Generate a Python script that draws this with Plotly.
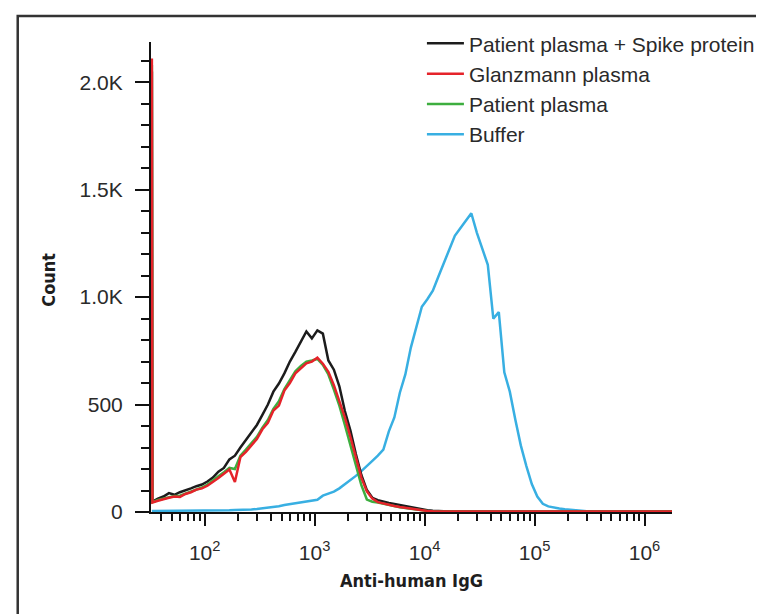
import plotly.graph_objects as go

# log10 channel positions: first entry is the low-end pile-up channel
LOG_X = [1.52] + [round(1.525 + 0.05 * i, 3) for i in range(96)]

SERIES_NAMES = ["Patient plasma + Spike protein", "Glanzmann plasma", "Patient plasma", "Buffer"]

BLACK = [2050,
         48, 62, 72, 88, 80, 92, 100, 110, 120, 128,
         142, 160, 188, 205, 245, 262, 300, 335, 372, 405,
         452, 500, 560, 598, 645, 700, 745, 792, 840, 808,
         845, 830, 705, 662, 585, 470, 380, 270, 172, 102,
         66, 55, 47, 42, 37, 32, 27, 23, 18, 12,
         8, 6, 4, 3, 2, 2, 2, 2, 2, 2,
         2, 2, 2, 2, 2, 2, 2, 2, 2, 2,
         2, 2, 2, 2, 2, 2, 2, 2, 2, 2,
         2, 2, 2, 2, 2, 2, 2, 2, 2, 2,
         2, 2, 2, 2, 2, 2]

RED = [2110,
       44, 52, 60, 66, 72, 70, 84, 92, 104, 110,
       122, 138, 158, 178, 198, 140, 255, 280, 312, 340,
       385, 415, 472, 495, 565, 600, 645, 670, 692, 700,
       718, 690, 652, 590, 520, 440, 350, 250, 160, 96,
       62, 46, 39, 33, 28, 23, 19, 15, 11, 7,
       5, 4, 3, 2, 2, 2, 2, 2, 2, 2,
       2, 2, 2, 2, 2, 2, 2, 2, 2, 2,
       2, 2, 2, 2, 2, 2, 2, 2, 2, 2,
       2, 2, 2, 2, 2, 2, 2, 2, 2, 2,
       2, 2, 2, 2, 2, 2]

GREEN = [2080,
         46, 56, 62, 70, 74, 76, 86, 96, 106, 114,
         128, 145, 166, 185, 205, 200, 262, 290, 320, 350,
         392, 428, 480, 515, 572, 615, 655, 680, 700, 705,
         712, 685, 640, 570, 495, 405, 315, 215, 125, 58,
         48, 44, 38, 32, 27, 22, 18, 14, 10, 7,
         5, 4, 3, 2, 2, 2, 2, 2, 2, 2,
         2, 2, 2, 2, 2, 2, 2, 2, 2, 2,
         2, 2, 2, 2, 2, 2, 2, 2, 2, 2,
         2, 2, 2, 2, 2, 2, 2, 2, 2, 2,
         2, 2, 2, 2, 2, 2]

BLUE = [5,
        5, 5, 6, 5, 6, 6, 6, 7, 6, 7,
        7, 8, 7, 8, 8, 9, 9, 11, 12, 14,
        17, 21, 24, 27, 33, 37, 42, 47, 50, 54,
        57, 76, 84, 95, 110, 128, 150, 168, 190, 212,
        238, 262, 290, 375, 440, 555, 640, 765, 860, 955,
        990, 1030, 1095, 1160, 1220, 1285, 1320, 1355, 1390, 1300,
        1230, 1150, 900, 930, 650, 560, 430, 310, 215, 130,
        72, 38, 26, 20, 16, 13, 10, 7, 5, 4,
        3, 2, 2, 2, 2, 2, 2, 2, 2, 2,
        2, 2, 2, 2, 2, 2]

COLORS = {"black": "#1c1c1c", "red": "#e5232a", "green": "#3dae3f", "blue": "#38afe2"}

X_TICK_VALS = [1e2, 1e3, 1e4, 1e5, 1e6]
X_TICK_TEXT = ["10<sup>2</sup>", "10<sup>3</sup>", "10<sup>4</sup>", "10<sup>5</sup>", "10<sup>6</sup>"]
Y_TICK_VALS = [0, 500, 1000, 1500, 2000]
Y_TICK_TEXT = ["0", "500", "1.0K", "1.5K", "2.0K"]

x_vals = [10 ** v for v in LOG_X]
minor_x = [m * 10 ** d for d in range(1, 7) for m in range(2, 10)]

fig = go.Figure()
draw = [("Buffer", BLUE, COLORS["blue"], 4),
        ("Patient plasma + Spike protein", BLACK, COLORS["black"], 1),
        ("Patient plasma", GREEN, COLORS["green"], 3),
        ("Glanzmann plasma", RED, COLORS["red"], 2)]
for name, vals, col, rank in draw:
    fig.add_trace(go.Scatter(x=x_vals, y=vals, mode="lines", name=name,
                             line=dict(color=col, width=2.5), legendrank=rank))

tick_font = dict(family="Liberation Sans, Arial, sans-serif", size=21, color="#2a2a2a")
title_font = dict(family="Liberation Sans Narrow, DejaVu Sans Condensed, Arial Narrow, sans-serif",
                  size=18, color="#1e1e1e", weight="bold")

fig.update_layout(
    width=764, height=614,
    margin=dict(l=143, r=93, t=34, b=110),
    paper_bgcolor="white", plot_bgcolor="white",
    showlegend=True,
    legend=dict(x=0.52, y=1.04, xanchor="left", yanchor="top",
                font=dict(family="Liberation Sans, Arial, sans-serif", size=21, color="#2a2a2a"),
                bgcolor="rgba(0,0,0,0)", itemwidth=37, traceorder="normal"),
    xaxis=dict(type="log", range=[1.512, 6.25], showgrid=False, zeroline=False, automargin=False,
               showline=True, linecolor="#111", linewidth=2, layer="below traces",
               tickmode="array", tickvals=X_TICK_VALS, ticktext=X_TICK_TEXT,
               ticks="outside", ticklen=12, tickwidth=2, tickcolor="#111",
               ticklabelstandoff=9, tickfont=tick_font,
               minor=dict(tickmode="array", tickvals=minor_x, ticks="outside",
                          ticklen=7, tickwidth=1.5, tickcolor="#111")),
    yaxis=dict(range=[0, 2187], showgrid=False, zeroline=False, automargin=False,
               showline=True, linecolor="#111", linewidth=2, layer="below traces",
               tickmode="array", tickvals=Y_TICK_VALS, ticktext=Y_TICK_TEXT,
               ticks="outside", ticklen=14, tickwidth=2, tickcolor="#111",
               ticklabelstandoff=8, tickfont=tick_font,
               minor=dict(dtick=100, ticks="outside", ticklen=8, tickwidth=1.5, tickcolor="#111")),
    annotations=[
        dict(text="Anti-human IgG", xref="paper", yref="paper", x=0.5, y=-0.145,
             xanchor="center", yanchor="middle", showarrow=False, font=title_font),
        dict(text="Count", xref="paper", yref="paper", x=-0.196, y=0.494, textangle=-90,
             xanchor="center", yanchor="middle", showarrow=False, font=title_font),
    ],
    shapes=[dict(type="rect", xref="paper", yref="paper", x0=-0.2558, x1=1.25, y0=-0.3, y1=1.0553,
                 line=dict(color="#333", width=2.5), layer="below")],
)

fig.write_html("out.html")
